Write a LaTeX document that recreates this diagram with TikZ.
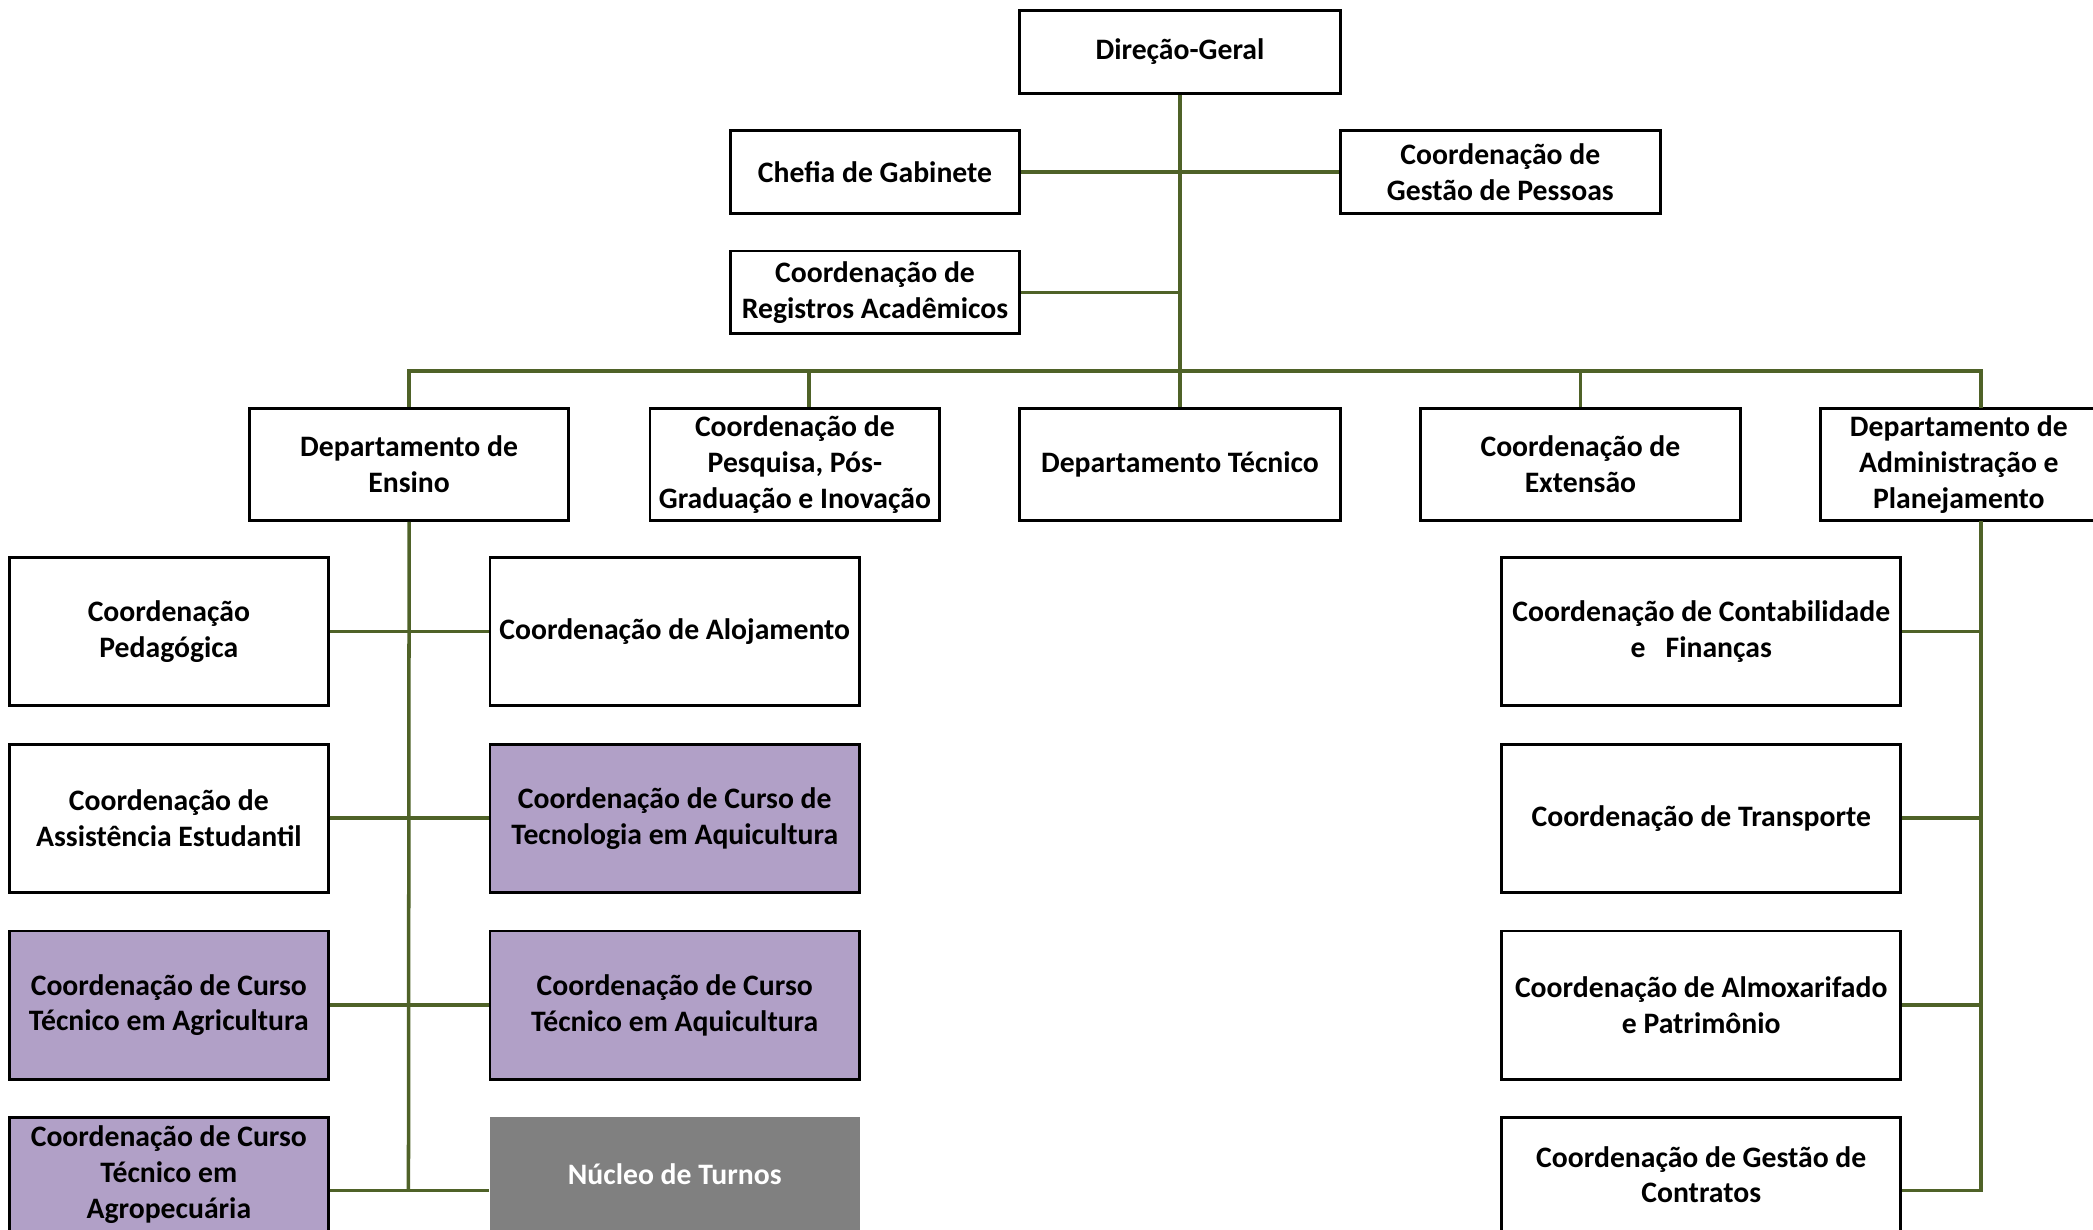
\documentclass[tikz,border=0pt]{standalone}
\usepackage{fontspec}
\setmainfont{Carlito}
\usetikzlibrary{positioning}

\definecolor{linkolive}{HTML}{4F6228}
\definecolor{coursepurple}{HTML}{B1A0C7}
\definecolor{nucleogray}{HTML}{808080}

\tikzset{
  unit/.style={draw, line width=0.8pt, fill=white, align=center, inner sep=1pt,
    font=\bfseries\fontsize{8.45}{10.2}\selectfont},
  course/.style={unit, fill=coursepurple},
  headbox/.style={minimum width=3.204cm, minimum height=0.828cm},
  narrowbox/.style={minimum width=2.897cm, minimum height=0.828cm},
  deptbox/.style={minimum width=3.204cm, minimum height=1.121cm},
  leftbox/.style={minimum width=3.19cm, minimum height=1.482cm},
  midbox/.style={minimum width=3.697cm, minimum height=1.482cm},
  rightbox/.style={minimum width=3.991cm, minimum height=1.482cm},
  link/.style={draw=linkolive, line width=1pt},
}

\begin{document}
\begin{tikzpicture}[x=0.013348cm, y=-0.013348cm]
    \useasboundingbox (0, 0) rectangle (1568, 921);

    % top of the chart
    \node[unit, headbox] (dg) at (884, 39) {Direção-Geral};
    \node[unit, narrowbox] (chefia) at (655.5, 129) {Chefia de Gabinete};
    \node[unit, headbox] (pessoas) at (1124, 129) {Coordenação de\\Gestão de Pessoas};
    \node[unit, narrowbox] (registros) at (655.5, 219) {Coordenação de\\Registros Acadêmicos};

    % departments
    \node[unit, deptbox, minimum width=3.19cm] (ensino) at (306.5, 348) {Departamento de\\Ensino};
    \node[unit, deptbox, minimum width=2.897cm] (pesquisa) at (595.5, 348) {Coordenação de\\Pesquisa, Pós-\\Graduação e Inovação};
    \node[unit, deptbox] (tecnico) at (884, 348) {Departamento Técnico};
    \node[unit, deptbox] (extensao) at (1184, 348) {Coordenação de\\Extensão};
    \node[unit, deptbox, minimum width=2.763cm] (admin) at (1467.5, 348) {Departamento de\\Administração e\\Planejamento};

    % under the Departamento de Ensino
    \node[unit, leftbox] (pedagogica) at (126.5, 473) {Coordenação\\Pedagógica};
    \node[unit, midbox] (alojamento) at (505.5, 473) {Coordenação de Alojamento};
    \node[unit, leftbox] (assistencia) at (126.5, 613) {Coordenação de\\Assistência Estudantil};
    \node[course, midbox] (tecnologia) at (505.5, 613) {Coordenação de Curso de\\Tecnologia em Aquicultura};
    \node[course, leftbox] (agricultura) at (126.5, 753) {Coordenação de Curso\\Técnico em Agricultura};
    \node[course, midbox] (aquicultura) at (505.5, 753) {Coordenação de Curso\\Técnico em Aquicultura};
    \node[course, leftbox, minimum height=1.148cm] (agropecuaria) at (126.5, 880) {Coordenação de Curso\\Técnico em\\Agropecuária};
    \node[unit, midbox, minimum height=1.148cm, draw=none, fill=nucleogray, text=white] (nucleo) at (505.5, 880) {Núcleo de Turnos};

    % under the Departamento de Administração
    \node[unit, rightbox] (contabilidade) at (1274.5, 473) {Coordenação de Contabilidade\\e\ \ \ Finanças};
    \node[unit, rightbox] (transporte) at (1274.5, 613) {Coordenação de Transporte};
    \node[unit, rightbox] (almoxarifado) at (1274.5, 753) {Coordenação de Almoxarifado\\e Patrimônio};
    \node[unit, rightbox, minimum height=1.148cm] (contratos) at (1274.5, 880) {Coordenação de Gestão de\\Contratos};

    \coordinate (bus) at (884, 278);
    \coordinate (admintop) at (1484, 306);
    \coordinate (adminbottom) at (1484, 390);
    \coordinate (ensinoend) at (306, 892);
    \coordinate (adminend) at (1484, 892);

    \draw[link] (dg.south) -- (tecnico.north);
    \draw[link] (chefia.east) -- (pessoas.west);
    \draw[link] (registros.east) -- (registros.east -| dg.south);
    \draw[link] (ensino.north) |- (bus) -| (admintop);
    \draw[link] ([xshift=0.14cm]pesquisa.north) -- ([xshift=0.14cm]pesquisa.north |- bus);
    \draw[link] (extensao.north) -- (extensao.north |- bus);

    \draw[link] (ensino.south) -- (ensinoend);
    \draw[link] (pedagogica.east) -- (alojamento.west);
    \draw[link] (assistencia.east) -- (tecnologia.west);
    \draw[link] (agricultura.east) -- (aquicultura.west);
    \draw[link] (agropecuaria.east |- ensinoend) -- (nucleo.west |- ensinoend);

    \draw[link] (adminbottom) -- (adminend) -- (contratos.east |- adminend);
    \draw[link] (contabilidade.east) -- (contabilidade.east -| adminbottom);
    \draw[link] (transporte.east) -- (transporte.east -| adminbottom);
    \draw[link] (almoxarifado.east) -- (almoxarifado.east -| adminbottom);

\end{tikzpicture}
\end{document}
